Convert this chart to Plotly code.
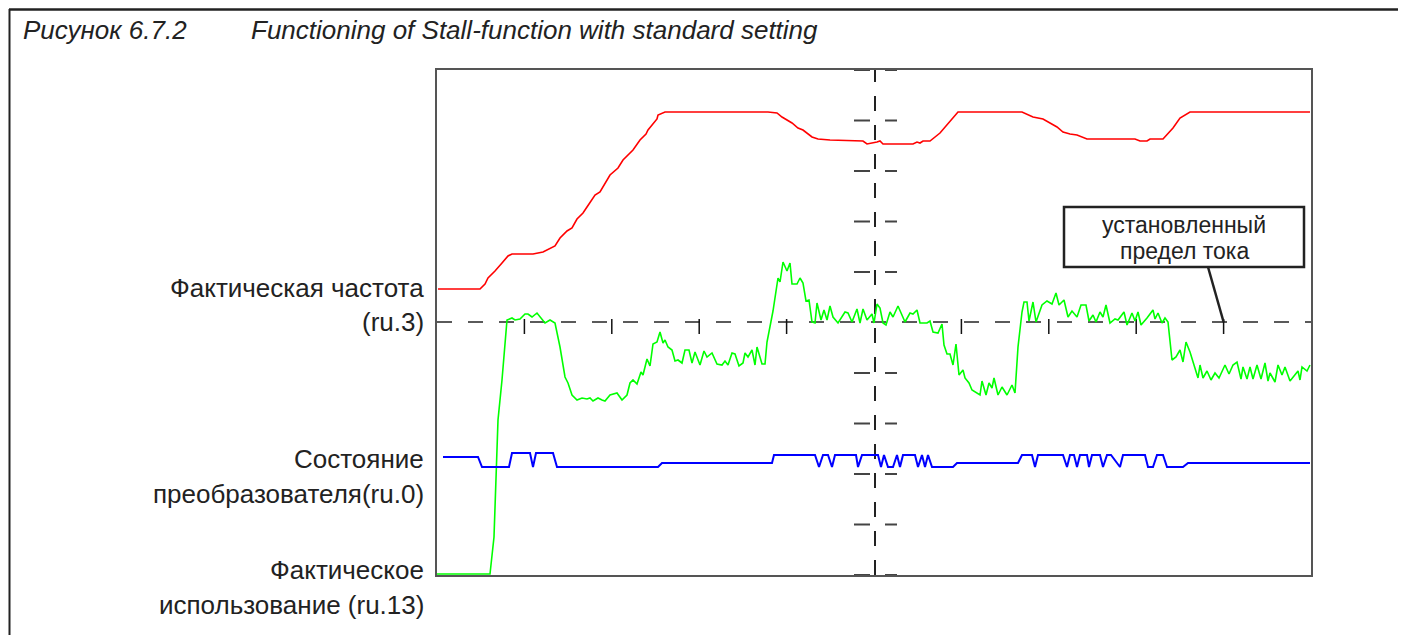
import plotly.graph_objects as go

# ---------------- data (time in samples, level in chart units; full scale 505) -------------
X_MAX = 874
Y_MAX = 505
N_DIV = 10
limit_level = 253          # set current limit (dashed line)
center_time = 438          # vertical dashed marker

# Actual frequency (ru.3)
red_t = [1, 43, 48, 51, 58, 61, 65, 71, 75, 96, 100, 106, 118, 123, 130, 135, 140, 146, 150,
         158, 163, 166, 173, 181, 186, 196, 203, 209, 211, 220, 221, 228, 331, 340, 345, 355,
         361, 366, 375, 381, 393, 426, 430, 440, 443, 446, 476, 480, 483, 486, 493, 503, 510,
         521, 585, 596, 606, 620, 626, 633, 640, 650, 698, 703, 710, 713, 726, 736, 743, 753, 873]
red_v = [286, 286, 291, 297, 304, 307, 312, 319, 321, 321, 322, 323, 329, 337, 344, 347, 356,
         362, 368, 380, 383, 388, 400, 407, 415, 425, 435, 441, 445, 456, 460, 463, 463, 462,
         458, 452, 447, 445, 438, 436, 435, 434, 431, 433, 434, 431, 431, 433, 432, 434, 434,
         442, 450, 463, 463, 458, 456, 448, 443, 441, 440, 436, 436, 434, 434, 436, 436, 447,
         457, 463, 463]

# Actual utilisation (ru.13)
green_t = [0, 53, 57, 61, 65, 70, 75, 78, 83, 88, 91, 95, 100, 103, 108, 113, 118, 123, 128,
           131, 135, 140, 145, 150, 153, 156, 161, 165, 168, 173, 180, 185, 190, 193, 196, 200,
           204, 206, 210, 213, 216, 220, 223, 226, 228, 231, 235, 238, 241, 245, 248, 252, 255,
           258, 263, 267, 270, 275, 280, 285, 288, 291, 295, 298, 302, 306, 308, 311, 315, 318,
           320, 325, 328, 330, 336, 341, 343, 346, 350, 353, 355, 360, 363, 366, 369, 372, 375,
           378, 380, 384, 387, 390, 393, 396, 401, 408, 411, 415, 420, 423, 426, 430, 435, 437,
           440, 443, 446, 449, 453, 456, 461, 468, 473, 476, 480, 483, 490, 493, 496, 501, 505,
           507, 510, 513, 516, 519, 522, 526, 528, 532, 535, 543, 545, 549, 552, 555, 557, 561,
           565, 570, 575, 578, 581, 585, 587, 590, 592, 596, 599, 605, 610, 615, 619, 622, 627,
           631, 635, 640, 644, 649, 652, 656, 659, 663, 666, 669, 673, 678, 681, 687, 690, 695,
           698, 701, 704, 710, 716, 718, 721, 725, 728, 731, 735, 739, 743, 746, 749, 753, 758,
           761, 763, 766, 770, 774, 778, 782, 788, 792, 796, 800, 804, 806, 810, 813, 816, 820,
           824, 828, 831, 833, 838, 841, 845, 848, 853, 858, 861, 863, 865, 870, 873]
green_v = [1, 1, 38, 155, 195, 255, 257, 255, 256, 261, 261, 258, 262, 258, 252, 255, 252, 228,
           198, 192, 180, 175, 177, 176, 177, 174, 177, 175, 174, 180, 182, 175, 180, 192, 195,
           191, 203, 200, 216, 209, 231, 233, 243, 232, 235, 228, 225, 214, 215, 212, 225, 225,
           212, 223, 210, 224, 218, 222, 211, 210, 214, 210, 222, 221, 209, 212, 222, 218, 225,
           210, 228, 211, 211, 233, 264, 297, 293, 313, 304, 312, 291, 291, 297, 292, 274, 275,
           253, 252, 272, 255, 265, 255, 269, 258, 252, 263, 262, 253, 266, 252, 266, 255, 261,
           252, 271, 267, 252, 250, 263, 258, 269, 253, 262, 261, 265, 252, 252, 254, 243, 242,
           251, 230, 221, 221, 210, 231, 200, 205, 197, 192, 185, 180, 194, 180, 192, 187, 197,
           180, 188, 180, 190, 182, 228, 263, 273, 273, 254, 273, 253, 270, 274, 271, 282, 270,
           275, 258, 264, 258, 270, 270, 254, 260, 253, 263, 258, 270, 252, 256, 255, 263, 250,
           262, 254, 263, 250, 257, 265, 256, 262, 252, 257, 253, 215, 218, 225, 213, 233, 223,
           207, 197, 210, 197, 204, 195, 202, 197, 210, 201, 210, 213, 196, 208, 196, 208, 196,
           210, 196, 212, 194, 202, 193, 210, 200, 208, 194, 201, 204, 195, 208, 204, 210]

# Converter state (ru.0)
blue_t = [6, 41, 45, 72, 75, 93, 96, 99, 116, 120, 221, 225, 335, 337, 378, 382, 386, 391, 395,
          398, 419, 421, 425, 441, 444, 447, 451, 456, 460, 463, 466, 478, 481, 485, 488, 491,
          495, 516, 520, 581, 585, 595, 598, 601, 626, 630, 633, 637, 640, 643, 650, 652, 655,
          663, 666, 670, 674, 683, 686, 708, 711, 716, 720, 726, 730, 746, 751, 873]
blue_v = [118, 118, 108, 108, 122, 122, 108, 122, 122, 108, 108, 112, 112, 120, 120, 108, 120,
          120, 108, 120, 120, 108, 120, 120, 108, 120, 108, 108, 120, 108, 120, 120, 108, 120,
          108, 120, 108, 108, 112, 112, 120, 120, 108, 120, 120, 108, 120, 120, 108, 120, 120,
          108, 120, 120, 108, 120, 120, 108, 120, 120, 108, 108, 120, 120, 108, 108, 112, 112]

left_labels = [("Фактическая частота", 287), ("(ru.3)", 253),
               ("Состояние", 116), ("преобразователя(ru.0)", 81),
               ("Фактическое", 5), ("использование (ru.13)", -30)]
box_lines = ["установленный", "предел тока"]
title_num = "Рисунок 6.7.2"
title_text = "Functioning of Stall-function with standard setting"

# ---------------- layout geometry ----------------
PAGE_OFF = 8               # page body margin in the browser
W, H = 1398, 627
ML, MR, MT, MB = 429, 95, 62, 60
PW, PH = W - ML - MR, H - MT - MB


def px_x(p):
    """screen x (pixel) -> paper fraction"""
    return (p - PAGE_OFF - ML) / PW


def px_y(p):
    """screen y (pixel) -> paper fraction"""
    return (H - MB - (p - PAGE_OFF)) / PH


FONT = "Liberation Sans, Arial, Helvetica, sans-serif"
TXT = "#222222"

fig = go.Figure()
fig.add_trace(go.Scatter(x=red_t, y=red_v, mode="lines",
                         line=dict(color="#ff0000", width=1.6), hoverinfo="skip"))
fig.add_trace(go.Scatter(x=green_t, y=green_v, mode="lines",
                         line=dict(color="#00ff00", width=1.6), hoverinfo="skip"))
fig.add_trace(go.Scatter(x=blue_t, y=blue_v, mode="lines",
                         line=dict(color="#0000ff", width=2), hoverinfo="skip"))

shapes = []
dx = X_MAX / N_DIV
dy = Y_MAX / N_DIV
# crosshair lines
shapes.append(dict(type="line", xref="x", yref="y", x0=0, x1=X_MAX, y0=limit_level,
                   y1=limit_level, line=dict(color="#5a5a5a", width=2, dash="15px,16px"),
                   layer="below"))
shapes.append(dict(type="line", xref="x", yref="y", x0=center_time, x1=center_time, y0=0,
                   y1=Y_MAX, line=dict(color="#222222", width=2, dash="15px,14px"),
                   layer="below"))
# ticks on the horizontal line
for k in range(1, N_DIV):
    if k == N_DIV // 2:
        continue
    shapes.append(dict(type="line", xref="x", yref="y", x0=k * dx, x1=k * dx,
                       y0=limit_level + 3, y1=limit_level - 12,
                       line=dict(color="#111111", width=1.5), layer="below"))
# ticks on the vertical line
for k in range(0, N_DIV + 1):
    if k == N_DIV // 2:
        continue
    shapes.append(dict(type="line", xref="x", yref="y", x0=center_time - 21,
                       x1=center_time + 22, y0=k * dy, y1=k * dy,
                       line=dict(color="#444444", width=2, dash="16px,15px"), layer="below"))

# annotation box + leader
box_x0, box_x1, box_y0, box_y1 = 627, 867, 308, 368
shapes.append(dict(type="rect", xref="x", yref="y", x0=box_x0, x1=box_x1, y0=box_y0, y1=box_y1,
                   line=dict(color="#222222", width=2.5), fillcolor="white", layer="above"))
shapes.append(dict(type="line", xref="x", yref="y", x0=771, y0=box_y0, x1=9 * dx,
                   y1=limit_level, line=dict(color="#222222", width=2.5), layer="above"))

# outer frame
shapes.append(dict(type="line", xref="paper", yref="paper", x0=px_x(9), x1=px_x(1405),
                   y0=px_y(9.5), y1=px_y(9.5), line=dict(color="#222222", width=2.5)))
shapes.append(dict(type="line", xref="paper", yref="paper", x0=px_x(9.5), x1=px_x(9.5),
                   y0=px_y(9), y1=px_y(640), line=dict(color="#222222", width=2)))
shapes.append(dict(type="line", xref="paper", yref="paper", x0=px_x(1404), x1=px_x(1404),
                   y0=px_y(9), y1=px_y(640), line=dict(color="#999999", width=1.5)))

annotations = []
for txt, yv in left_labels:
    annotations.append(dict(text=txt, xref="paper", x=0, xanchor="right", xshift=-11,
                            yref="paper", y=yv / Y_MAX, yanchor="middle", showarrow=False,
                            font=dict(family=FONT, size=26, color=TXT)))
mid_x = (box_x0 + box_x1) / 2
annotations.append(dict(text=box_lines[0], xref="x", x=mid_x, yref="y", y=350,
                        showarrow=False, font=dict(family=FONT, size=23, color=TXT)))
annotations.append(dict(text=box_lines[1], xref="x", x=mid_x, yref="y", y=324,
                        showarrow=False, font=dict(family=FONT, size=23, color=TXT)))
annotations.append(dict(text="<i>" + title_num + "</i>", xref="paper", x=px_x(21),
                        xanchor="left", yref="paper", y=px_y(30), yanchor="middle",
                        showarrow=False, font=dict(family=FONT, size=26, color=TXT)))
annotations.append(dict(text="<i>" + title_text + "</i>", xref="paper", x=px_x(249),
                        xanchor="left", yref="paper", y=px_y(30), yanchor="middle",
                        showarrow=False, font=dict(family=FONT, size=26, color=TXT)))

axis_common = dict(showgrid=False, zeroline=False, showticklabels=False, ticks="",
                   showline=True, mirror=True, linecolor="#555555", linewidth=1.5,
                   fixedrange=True)
fig.update_layout(
    width=W, height=H,
    margin=dict(l=ML, r=MR, t=MT, b=MB),
    paper_bgcolor="white", plot_bgcolor="white",
    showlegend=False,
    xaxis=dict(range=[0, X_MAX], **axis_common),
    yaxis=dict(range=[0, Y_MAX], **axis_common),
    shapes=shapes,
    annotations=annotations,
)

fig.write_html("out.html")
